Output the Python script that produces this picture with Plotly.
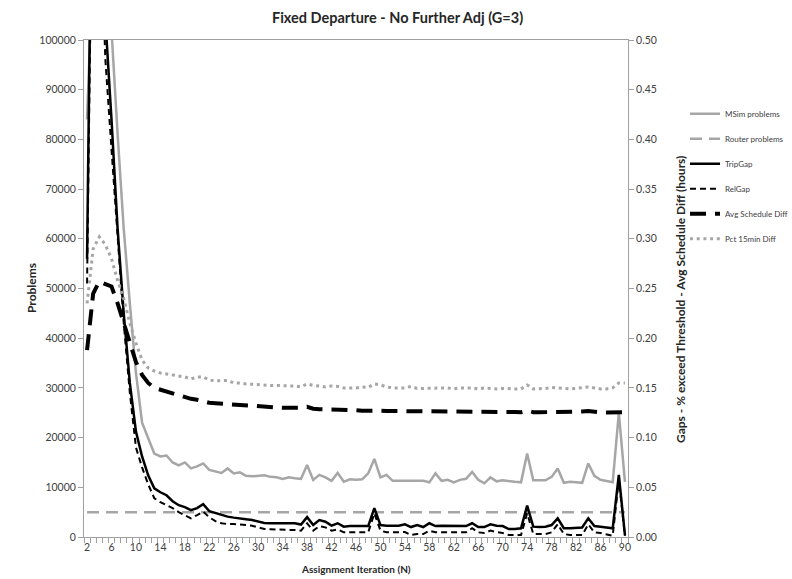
import plotly.graph_objects as go

iterations = list(range(2, 91))

msim_problems = [
    84000, 135000, 150000, 140000, 102000, 81000, 62000, 47000, 33000, 23000,
    20000, 16800, 16200, 16400, 15000, 14400, 15000, 13800, 14200, 14800,
    13500, 13200, 12900, 13800, 12800, 13000, 12300, 12200, 12300, 12400,
    12100, 12000, 11700, 12000, 11800, 11700, 14500, 11500, 12500, 12000,
    11300, 12900, 11100, 11600, 11500, 11600, 12800, 15700, 12000, 12500,
    11300, 11300, 11400, 11300, 11400, 11300, 11000, 12800, 11300, 11500,
    11000, 11500, 11700, 13100, 11500, 10800, 12000, 11200, 11400, 11200,
    11100, 11000, 16800, 11400, 11400, 11400, 12100, 13800, 10900, 11100,
    11000, 10900, 14800, 12300, 11500, 11300, 11000, 25000, 11100,
]

router_problems = [5000] * 89

trip_gap = [
    0.28, 0.80, 0.72, 0.52, 0.42, 0.31, 0.225, 0.155, 0.106, 0.081,
    0.062, 0.049, 0.045, 0.042, 0.036, 0.032, 0.030, 0.027, 0.029, 0.033,
    0.026, 0.024, 0.022, 0.0205, 0.0195, 0.019, 0.0178, 0.017, 0.0155, 0.014,
    0.0138, 0.0138, 0.0138, 0.014, 0.0138, 0.0125, 0.020, 0.012, 0.017, 0.0154,
    0.0114, 0.0138, 0.0104, 0.011, 0.011, 0.011, 0.011, 0.029, 0.012, 0.0114,
    0.0114, 0.0114, 0.0128, 0.010, 0.012, 0.010, 0.0138, 0.011, 0.0114, 0.0114,
    0.0114, 0.0114, 0.011, 0.0138, 0.010, 0.010, 0.0128, 0.0114, 0.011, 0.008,
    0.008, 0.0088, 0.0315, 0.0104, 0.010, 0.0104, 0.012, 0.0188, 0.0088, 0.0088,
    0.0088, 0.0095, 0.0188, 0.011, 0.0104, 0.0097, 0.0088, 0.0624, 0.002,
]

rel_gap = [
    0.255, 0.75, 0.65, 0.48, 0.39, 0.30, 0.215, 0.145, 0.09, 0.07,
    0.053, 0.039, 0.035, 0.032, 0.029, 0.025, 0.022, 0.0188, 0.022, 0.0255,
    0.0198, 0.016, 0.0138, 0.013, 0.013, 0.0128, 0.012, 0.0114, 0.010, 0.008,
    0.0077, 0.0077, 0.0077, 0.0077, 0.007, 0.0064, 0.0138, 0.0064, 0.011, 0.0097,
    0.0064, 0.0077, 0.0047, 0.0047, 0.0047, 0.0047, 0.0047, 0.0238, 0.0064, 0.0047,
    0.0047, 0.0047, 0.005, 0.002, 0.003, 0.003, 0.0064, 0.0047, 0.0047, 0.0047,
    0.0047, 0.0047, 0.0047, 0.0088, 0.0047, 0.004, 0.0064, 0.005, 0.004, 0.002,
    0.002, 0.002, 0.0238, 0.003, 0.003, 0.003, 0.0047, 0.0128, 0.003, 0.002,
    0.002, 0.002, 0.0128, 0.0047, 0.004, 0.003, 0.0013, 0.058, 0.001,
]

avg_schedule_diff = [
    0.188, 0.245, 0.257, 0.255, 0.252, 0.235, 0.215, 0.195, 0.176, 0.163,
    0.155, 0.150, 0.148, 0.147, 0.145, 0.142, 0.140, 0.139, 0.138, 0.136,
    0.135, 0.1345, 0.134, 0.1335, 0.133, 0.1328, 0.132, 0.1318, 0.1315, 0.131,
    0.1308, 0.1305, 0.130, 0.130, 0.1298, 0.130, 0.131, 0.129, 0.1285, 0.1285,
    0.128, 0.1285, 0.128, 0.1278, 0.1275, 0.127, 0.127, 0.128, 0.127, 0.1268,
    0.1267, 0.1266, 0.1265, 0.1265, 0.1264, 0.1263, 0.1262, 0.1262, 0.1261, 0.126,
    0.126, 0.126, 0.1259, 0.1262, 0.1258, 0.1258, 0.1258, 0.1257, 0.1257, 0.1257,
    0.1257, 0.1256, 0.127, 0.1256, 0.1255, 0.1255, 0.1258, 0.126, 0.1256, 0.1255,
    0.1256, 0.1262, 0.1268, 0.1258, 0.1254, 0.1252, 0.1252, 0.1262, 0.1255,
]

pct_15min_diff = [
    0.235, 0.29, 0.302, 0.294, 0.28, 0.258, 0.24, 0.215, 0.195, 0.178,
    0.170, 0.167, 0.165, 0.164, 0.163, 0.162, 0.161, 0.159, 0.161, 0.161,
    0.158, 0.157, 0.157, 0.1575, 0.155, 0.155, 0.154, 0.1535, 0.153, 0.1528,
    0.1525, 0.1525, 0.152, 0.152, 0.152, 0.151, 0.154, 0.1525, 0.152, 0.151,
    0.152, 0.1515, 0.150, 0.150, 0.150, 0.151, 0.1505, 0.154, 0.153, 0.151,
    0.150, 0.150, 0.150, 0.1515, 0.1495, 0.1495, 0.1495, 0.150, 0.150, 0.150,
    0.149, 0.150, 0.150, 0.150, 0.149, 0.150, 0.1495, 0.149, 0.1495, 0.149,
    0.149, 0.149, 0.153, 0.149, 0.149, 0.1495, 0.1505, 0.150, 0.1495, 0.149,
    0.1495, 0.150, 0.151, 0.150, 0.149, 0.149, 0.150, 0.155, 0.155,
]

x_tick_labels = list(range(2, 91, 4))
left_ticks = list(range(0, 100001, 10000))
right_ticks = [round(i * 0.05, 2) for i in range(11)]

GRAY = "#A6A6A6"
FONT = "Lato"
TXT = "#404040"

fig = go.Figure()
fig.add_trace(go.Scatter(x=iterations, y=msim_problems, name="MSim problems", mode="lines",
                         line=dict(color=GRAY, width=2.5), yaxis="y"))
fig.add_trace(go.Scatter(x=iterations, y=router_problems, name="Router problems", mode="lines",
                         line=dict(color=GRAY, width=2.5, dash="12px,7px"), yaxis="y"))
fig.add_trace(go.Scatter(x=iterations, y=trip_gap, name="TripGap", mode="lines",
                         line=dict(color="black", width=2.5), yaxis="y2"))
fig.add_trace(go.Scatter(x=iterations, y=rel_gap, name="RelGap", mode="lines",
                         line=dict(color="black", width=2, dash="6px,4px"), yaxis="y2"))
fig.add_trace(go.Scatter(x=iterations, y=avg_schedule_diff, name="Avg Schedule Diff", mode="lines",
                         line=dict(color="black", width=4, dash="16px,9px"), yaxis="y2"))
fig.add_trace(go.Scatter(x=iterations, y=pct_15min_diff, name="Pct 15min Diff", mode="lines",
                         line=dict(color=GRAY, width=3, dash="3px,3.7px"), yaxis="y2"))

for i, tr in enumerate(fig.data):
    tr.legendgroup = f"g{i}"

plot_w = 792 - 84 - 164
plot_h = 579 - 40 - 42

axis_line = "#A0A0A0"
fig.update_layout(
    width=792, height=579,
    margin=dict(l=84, r=164, t=40, b=42, autoexpand=False),
    paper_bgcolor="white", plot_bgcolor="white",
    font=dict(family=FONT, color=TXT, size=11),
    title=dict(text="<b>Fixed Departure - No Further Adj (G=3)</b>", x=0.502, xanchor="center",
               y=0.969, yanchor="middle", font=dict(family=FONT, size=14.5, color="#262626")),
    xaxis=dict(range=[1.5, 90.5], tickmode="array", tickvals=x_tick_labels,
               ticktext=[str(v) for v in x_tick_labels], ticks="", showgrid=False, zeroline=False,
               showline=True, linecolor=axis_line, linewidth=1, mirror=True,
               tickfont=dict(size=10.5, color=TXT),
               minor=dict(tickmode="linear", tick0=1.5, dtick=1, ticks="outside", ticklen=5,
                          tickcolor=axis_line, showgrid=False)),
    yaxis=dict(range=[0, 100000], tickmode="array", tickvals=left_ticks, tickformat="d",
               ticks="outside", ticklen=5, tickcolor=axis_line, showgrid=False, zeroline=False,
               showline=True, linecolor=axis_line, linewidth=1, tickfont=dict(size=10.5, color=TXT)),
    yaxis2=dict(range=[0, 0.5], tickmode="array", tickvals=right_ticks, tickformat=".2f",
                overlaying="y", side="right", ticks="outside", ticklen=5, tickcolor=axis_line,
                showgrid=False, zeroline=False, showline=True, linecolor=axis_line, linewidth=1,
                tickfont=dict(size=10.5, color=TXT)),
    legend=dict(x=(685 - 84) / plot_w, xanchor="left", y=0.881, yanchor="top",
                traceorder="grouped", tracegroupgap=6, font=dict(size=8, color=TXT),
                bgcolor="rgba(0,0,0,0)"),
    showlegend=True,
    annotations=[
        dict(text="<b>Problems</b>", x=(31 - 84) / plot_w, y=(537 - 288) / plot_h,
             xref="paper", yref="paper", showarrow=False, xanchor="center", yanchor="middle",
             textangle=-90, font=dict(size=12, color="#262626")),
        dict(text="<b>Assignment Iteration (N)</b>", x=0.5, y=-0.064, xref="paper", yref="paper",
             showarrow=False, font=dict(size=10, color="#262626"), xanchor="center", yanchor="middle"),
        dict(text="<b>Gaps - % exceed Threshold - Avg Schedule Diff (hours)</b>",
             x=(680 - 84) / plot_w, y=(537 - 300) / plot_h,
             xref="paper", yref="paper", showarrow=False, textangle=-90,
             xanchor="center", yanchor="middle", font=dict(size=12, color="#262626")),
    ],
)

fig.write_html("out.html")
